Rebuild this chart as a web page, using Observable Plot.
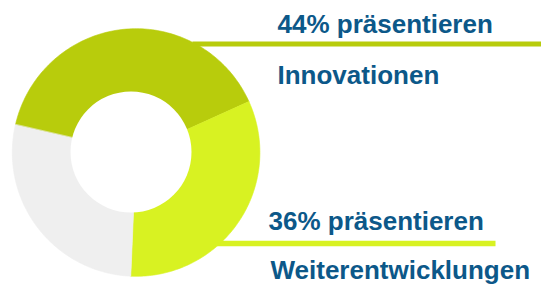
<!DOCTYPE html>
<html>
<head>
<meta charset="utf-8">
<script src="https://cdn.jsdelivr.net/npm/d3@7"></script>
<script src="https://cdn.jsdelivr.net/npm/@observablehq/plot@0.6"></script>
<style>
  html, body { margin: 0; padding: 0; background: #ffffff; }
  #chart svg { display: block; }
</style>
</head>
<body>
<div id="chart"></div>
<script>
// ---- data ----
const categories = ["Innovationen", "Weiterentwicklungen", "Sonstige"];
const values = [44, 36, 31];
const sliceColors = ["#b8cc0c", "#d8f222", "#efefef"];
const labelTop = ["44% präsentieren", "36% präsentieren"];
const labelBottom = ["Innovationen", "Weiterentwicklungen"];

// ---- layout ----
const W = 541, H = 285;
const cx = 135.6, cy = 152, R = 123.8;
const hole = {x: 130.5, y: 151.5, r: 60.5};
const startDeg = -77;

const pie = d3.pie().sort(null).startAngle(startDeg * Math.PI / 180).endAngle((startDeg + 360) * Math.PI / 180)(values);
const pts = [];
pie.forEach((s, i) => {
  pts.push({k: categories[i], c: sliceColors[i], x: cx, y: cy});
  const n = 120;
  for (let j = 0; j <= n; j++) {
    const a = s.startAngle + (s.endAngle - s.startAngle) * j / n;
    pts.push({k: categories[i], c: sliceColors[i], x: cx + R * Math.sin(a), y: cy - R * Math.cos(a)});
  }
});

const leaders = [
  {x1: 192, x2: 541, y: 43.5, c: sliceColors[0], w: 5},
  {x1: 210, x2: 495, y: 243, c: sliceColors[1], w: 5.5}
];
const texts = [
  {t: labelTop[0], x: 277, base: 32},
  {t: labelBottom[0], x: 277, base: 83},
  {t: labelTop[1], x: 268, base: 229},
  {t: labelBottom[1], x: 270, base: 278.5}
];
const FS = 26;

const chart = Plot.plot({
  width: W, height: H,
  margin: 0,
  x: {domain: [0, W], axis: null},
  y: {domain: [0, H], reverse: true, axis: null},
  color: {type: "identity"},
  marks: [
    Plot.link(leaders, {x1: "x1", x2: "x2", y1: "y", y2: "y", stroke: "c", strokeWidth: d => d.w, strokeLinecap: "butt"}),
    Plot.line(pts, {x: "x", y: "y", z: "k", fill: "c", stroke: "c", strokeWidth: 0.6, curve: "linear-closed"}),
    Plot.dot([hole], {x: "x", y: "y", r: hole.r, fill: "#ffffff", stroke: "none"}),
    Plot.text(texts, {x: "x", y: d => d.base - 0.32 * FS, text: "t", textAnchor: "start",
      fontSize: FS, fontWeight: "bold", fontFamily: "'Liberation Sans', Arial, sans-serif", fill: "#0c5889"})
  ]
});
document.getElementById("chart").appendChild(chart);
</script>
</body>
</html>
